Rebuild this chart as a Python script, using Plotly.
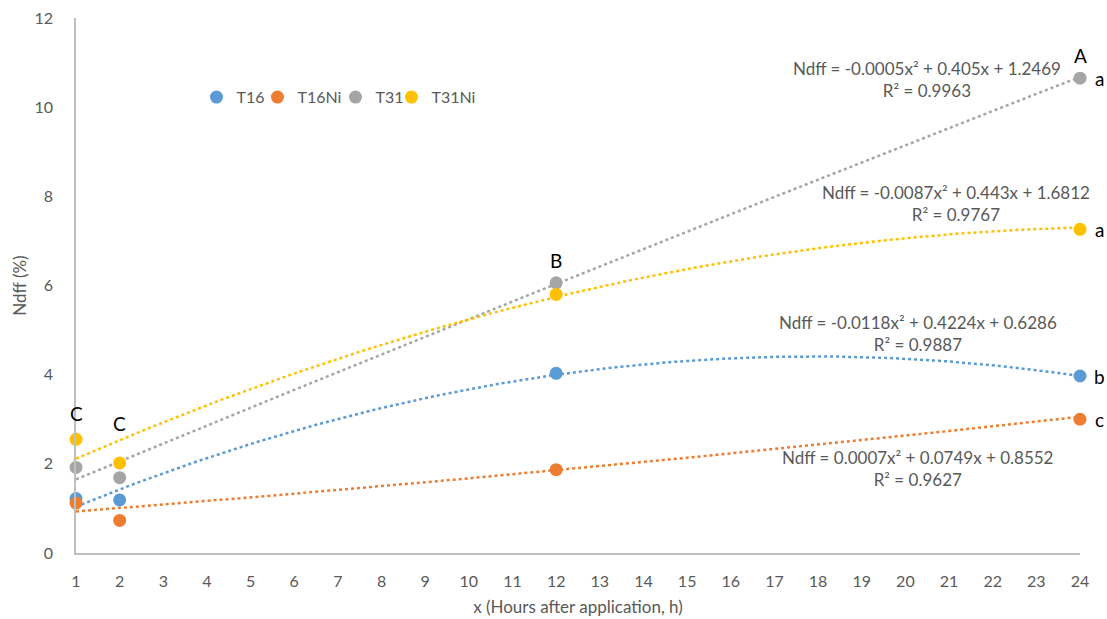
import numpy as np
import plotly.graph_objects as go

hours = [1, 2, 12, 24]
series_names = ["T16", "T16Ni", "T31", "T31Ni"]
t16 = [1.22, 1.19, 4.03, 3.97]
t16ni = [1.12, 0.73, 1.87, 3.0]
t31 = [1.92, 1.69, 6.06, 10.65]
t31ni = [2.55, 2.02, 5.80, 7.26]
values = [t16, t16ni, t31, t31ni]
colors = ["#5B9BD5", "#ED7D31", "#A5A5A5", "#FFC000"]

# trendline coefficients as displayed (a, b, c) and R²
coef_t16 = [-0.0118, 0.4224, 0.6286]
coef_t16ni = [0.0007, 0.0749, 0.8552]
coef_t31 = [-0.0005, 0.405, 1.2469]
coef_t31ni = [-0.0087, 0.443, 1.6812]
coefs = [coef_t16, coef_t16ni, coef_t31, coef_t31ni]
r2 = ["0.9887", "0.9627", "0.9963", "0.9767"]
eq_text = [
    "Ndff = -0.0118x² + 0.4224x + 0.6286",
    "Ndff = 0.0007x² + 0.0749x + 0.8552",
    "Ndff = -0.0005x² + 0.405x + 1.2469",
    "Ndff = -0.0087x² + 0.443x + 1.6812",
]
# equation label anchors (data coords)
eq_pos = [(20.29, 4.93), (20.29, 1.9), (20.5, 10.63), (21.16, 7.85)]

# significance letters (x, y, label, vertical offset px)
top_letters = [(1, 2.55, "C", 26), (2, 2.02, "C", 39), (12, 6.06, "B", 22), (24, 10.65, "A", 23)]
side_letters = [("b", 3.97), ("c", 3.0), ("a", 10.65), ("a", 7.26)]

tick_vals = list(range(1, 25))
y_ticks = [0, 2, 4, 6, 8, 10, 12]

FONT = "Lato, sans-serif"
GREY_TXT = "#595959"
legend_widths = [16, 33, 11, 40]

fig = go.Figure()
xs = np.linspace(1, 24, 200)
for name, c, col in zip(series_names, coefs, colors):
    ys = np.polyval(c, xs)
    fig.add_trace(go.Scatter(x=xs, y=ys, mode="lines",
                             line=dict(color=col, width=2.5, dash="dot"),
                             showlegend=False, hoverinfo="skip"))
for name, v, col, lw in zip(series_names, values, colors, legend_widths):
    fig.add_trace(go.Scatter(x=hours, y=v, mode="markers", name=name,
                             marker=dict(color=col, size=13),
                             legendwidth=lw, cliponaxis=False))

annotations = []
for (ex, ey), txt, r in zip(eq_pos, eq_text, r2):
    annotations.append(dict(x=ex, y=ey, xref="x", yref="y",
                            text=txt + "<br>R² = " + r, showarrow=False,
                            font=dict(family=FONT, size=17, color=GREY_TXT),
                            align="center", yanchor="middle"))
for lx, ly, t, sh in top_letters:
    annotations.append(dict(x=lx, y=ly, xref="x", yref="y", text=t,
                            showarrow=False, yshift=sh,
                            font=dict(family=FONT, size=19, color="#000000")))
for t, ly in side_letters:
    annotations.append(dict(x=24, y=ly, xref="x", yref="y", text=t,
                            showarrow=False, xshift=19,
                            font=dict(family=FONT, size=19, color="#000000")))

fig.update_layout(
    width=1107, height=619,
    margin=dict(l=76, r=27, t=18, b=66),
    plot_bgcolor="white", paper_bgcolor="white",
    font=dict(family=FONT, size=16, color=GREY_TXT),
    legend=dict(orientation="h", x=0.12, y=0.852, xanchor="left", yanchor="middle",
                font=dict(family=FONT, size=16, color=GREY_TXT),
                itemwidth=30, bgcolor="rgba(0,0,0,0)", tracegroupgap=0),
    annotations=annotations,
    xaxis=dict(range=[1, 24], tickmode="array", tickvals=tick_vals,
               showgrid=False, zeroline=False, showline=True, automargin=False,
               linecolor="#BFBFBF", linewidth=1.5, ticks="",
               ticklabelstandoff=13,
               title=dict(text="x (Hours after application, h)", standoff=12,
                          font=dict(family=FONT, size=17, color=GREY_TXT))),
    yaxis=dict(range=[0, 12], tickmode="array", tickvals=y_ticks,
               showgrid=False, zeroline=False, showline=True, automargin=False,
               linecolor="#BFBFBF", linewidth=1.5, ticks="",
               ticklabelstandoff=18,
               title=dict(text="Ndff (%)", standoff=4,
                          font=dict(family=FONT, size=17, color=GREY_TXT))),
)

fig.write_html("out.html", config={"displayModeBar": False},
               post_script="document.body.style.margin='0';document.documentElement.style.overflow='hidden';")
